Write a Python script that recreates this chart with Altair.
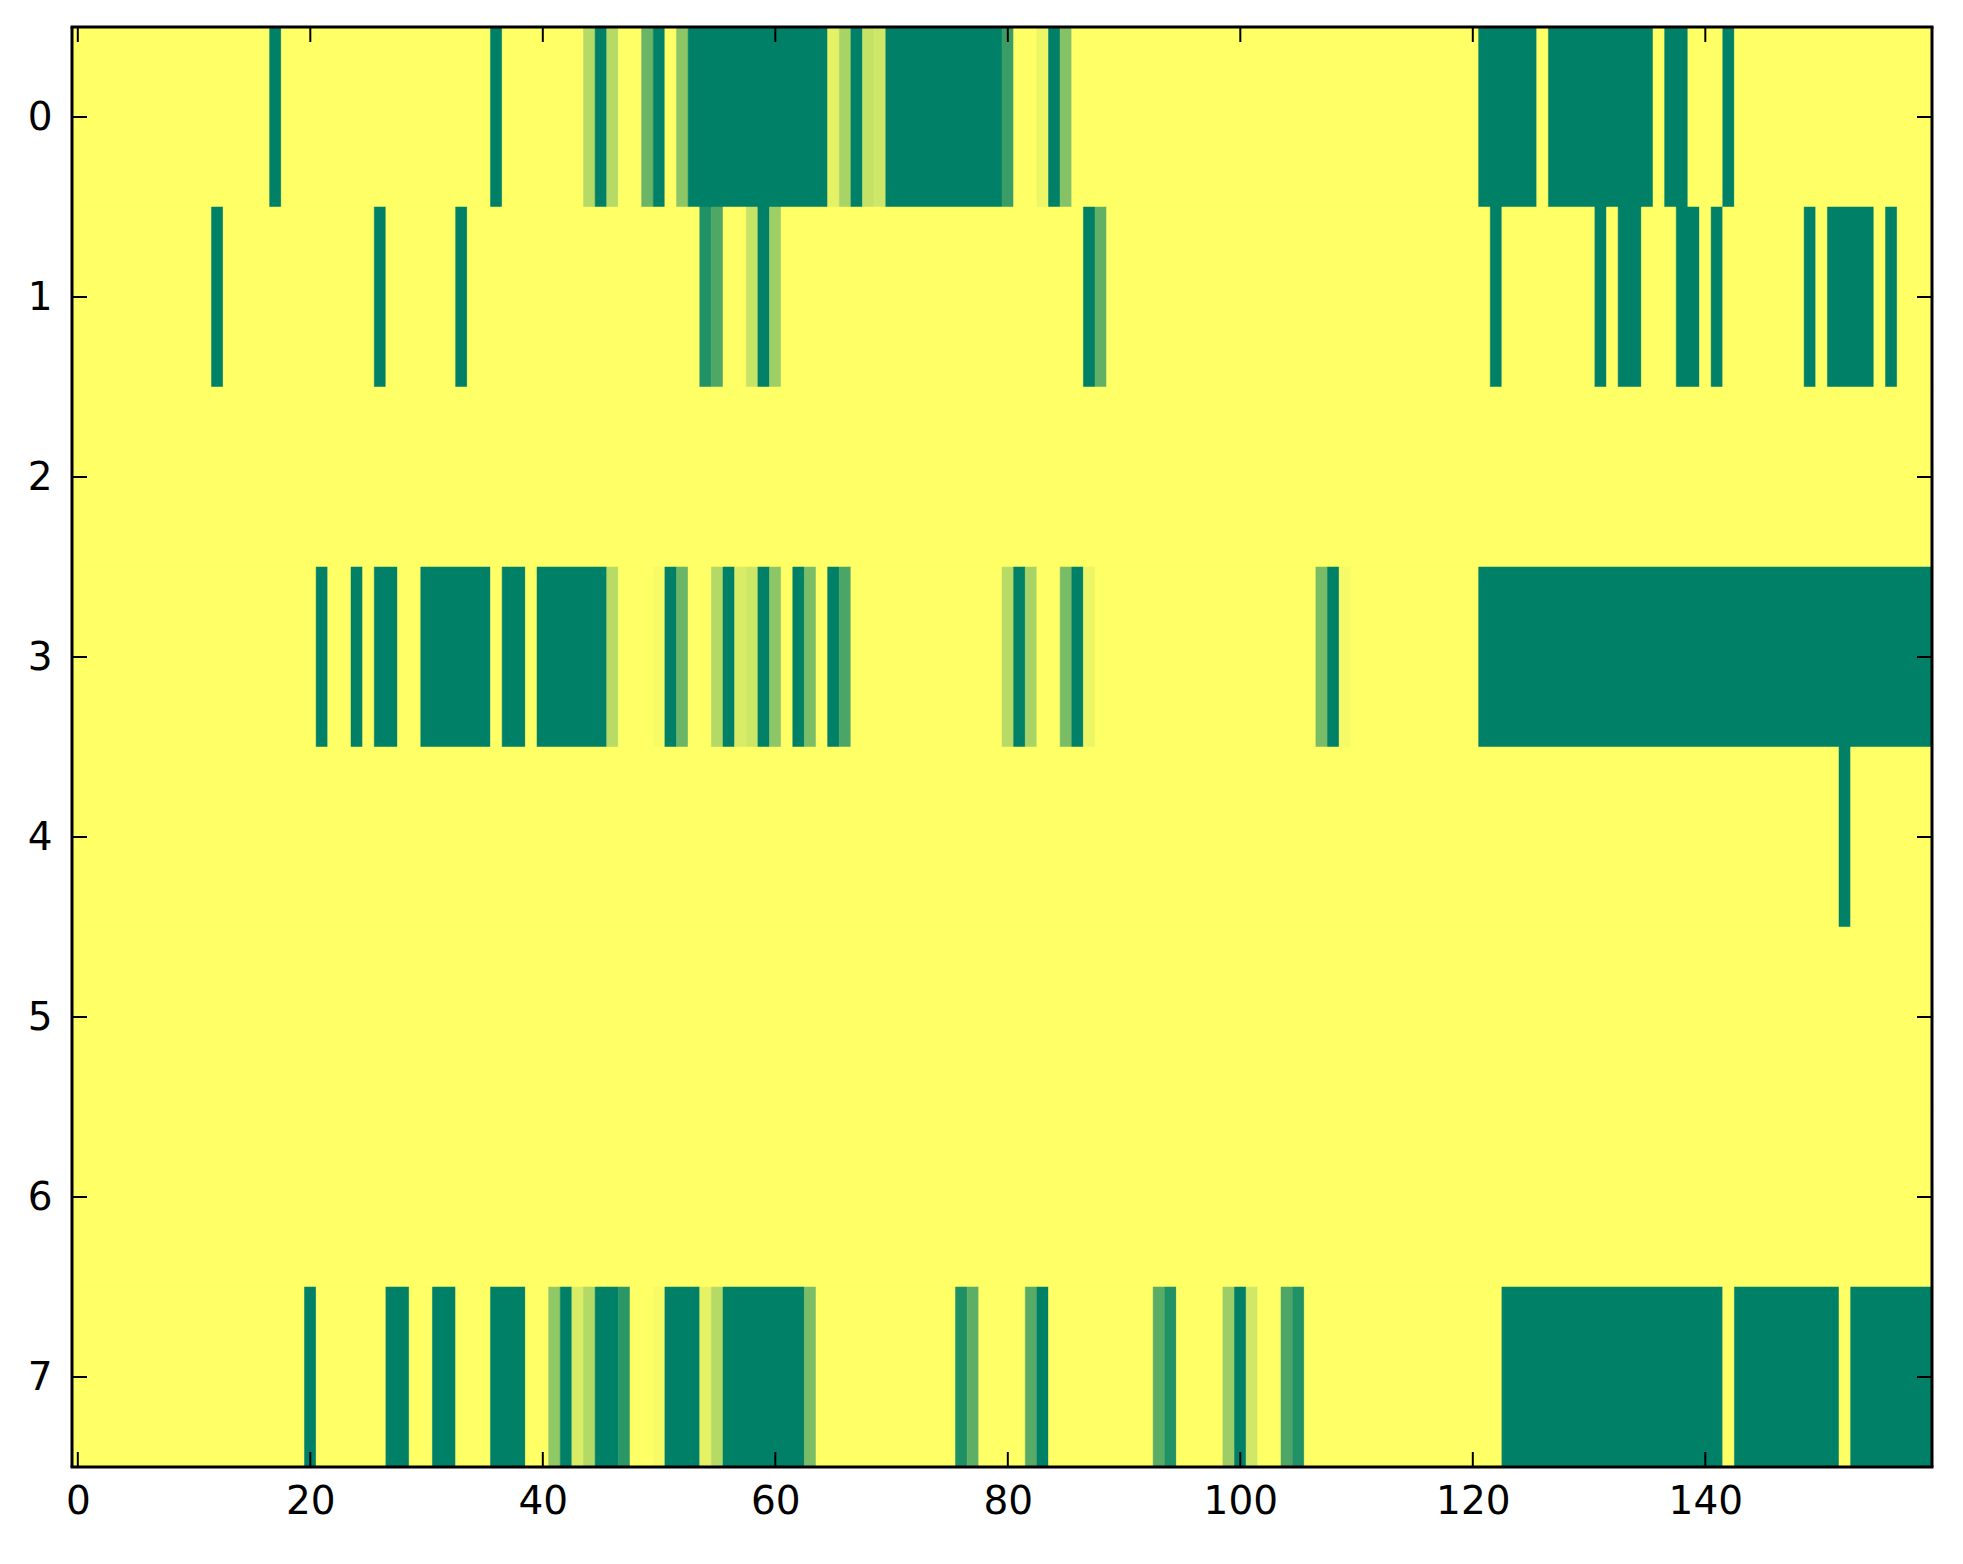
import altair as alt
import pandas as pd

N_COLS = 160
N_ROWS = 8

# Runs of non-zero cells per row: (start_col, end_col, value); all other cells are 0
row_0 = [(17, 17, 1), (36, 36, 1), (44, 44, 0.29), (45, 45, 1), (46, 46, 0.29),
         (49, 49, 0.58), (50, 50, 1), (52, 52, 0.45), (53, 64, 1), (65, 65, 0.1),
         (66, 66, 0.34), (67, 67, 1), (68, 68, 0.23), (69, 69, 0.19), (70, 79, 1),
         (80, 80, 0.77), (83, 83, 0.07), (84, 84, 1), (85, 85, 0.48),
         (121, 125, 1), (127, 135, 1), (137, 138, 1), (142, 142, 1)]
row_1 = [(12, 12, 1), (26, 26, 1), (33, 33, 1), (54, 54, 0.87), (55, 55, 0.69),
         (58, 58, 0.22), (59, 59, 1), (60, 60, 0.38), (87, 87, 1), (88, 88, 0.62),
         (122, 122, 1), (131, 131, 1), (133, 134, 1), (138, 139, 1), (141, 141, 1),
         (149, 149, 1), (151, 154, 1), (156, 156, 1)]
row_2 = []
row_3 = [(21, 21, 1), (24, 24, 1), (26, 27, 1), (30, 35, 1), (37, 38, 1), (40, 45, 1),
         (46, 46, 0.28), (50, 50, 0.03), (51, 51, 1), (52, 52, 0.58), (55, 55, 0.3),
         (56, 56, 1), (57, 57, 0.15), (58, 58, 0.2), (59, 59, 1), (60, 60, 0.45),
         (62, 62, 1), (63, 63, 0.52), (65, 65, 1), (66, 66, 0.71), (80, 80, 0.28),
         (81, 81, 1), (82, 82, 0.34), (85, 85, 0.53), (86, 86, 1), (87, 87, 0.08),
         (107, 107, 0.53), (108, 108, 1), (109, 109, 0.04), (121, 159, 1)]
row_4 = [(152, 152, 1)]
row_5 = []
row_6 = []
row_7 = [(20, 20, 1), (27, 28, 1), (31, 32, 1), (36, 38, 1), (41, 41, 0.43),
         (42, 42, 1), (43, 43, 0.15), (44, 44, 0.3), (45, 46, 1), (47, 47, 0.83),
         (50, 50, 0.03), (51, 53, 1), (54, 54, 0.1), (55, 55, 0.29), (56, 62, 1),
         (63, 63, 0.52), (76, 76, 0.88), (77, 77, 0.63), (82, 82, 0.66), (83, 83, 1),
         (93, 93, 0.65), (94, 94, 0.87), (99, 99, 0.39), (100, 100, 1), (101, 101, 0.18),
         (104, 104, 0.7), (105, 105, 0.87), (123, 141, 1), (143, 151, 1), (153, 159, 1)]

rows = [row_0, row_1, row_2, row_3, row_4, row_5, row_6, row_7]
x_ticks = [0, 20, 40, 60, 80, 100, 120, 140]
y_ticks = [0, 1, 2, 3, 4, 5, 6, 7]

# Expand runs into the full grid, then merge equal neighbouring cells into one rect
records = []
for r, runs in enumerate(rows):
    vals = [0.0] * N_COLS
    for s, e, v in runs:
        for c in range(s, e + 1):
            vals[c] = v
    start = 0
    for c in range(1, N_COLS + 1):
        if c == N_COLS or vals[c] != vals[start]:
            records.append({"x0": start - 0.5, "x1": c - 0.5,
                            "y0": r - 0.5, "y1": r + 0.5, "v": vals[start]})
            start = c
df = pd.DataFrame(records)

W, H = 1860, 1440
TL = 15
FONT = "DejaVu Sans"
FS = 39
FRAME = 3

xs = alt.Scale(domain=[-0.5, N_COLS - 0.5], nice=False, zero=False)
ys = alt.Scale(domain=[-0.5, N_ROWS - 0.5], nice=False, zero=False, reverse=True)
cs = alt.Scale(domain=[0, 1], range=["#ffff66", "#008066"], interpolate="rgb")

heat = alt.Chart(df).mark_rect(strokeWidth=0.5).encode(
    x=alt.X("x0:Q", scale=xs, title=None,
            axis=alt.Axis(values=x_ticks, format="d", ticks=False, domain=False, grid=False,
                          labelFont=FONT, labelFontSize=FS, labelColor="black",
                          labelPadding=15, labelFlush=False)),
    x2="x1:Q",
    y=alt.Y("y0:Q", scale=ys, title=None,
            axis=alt.Axis(values=y_ticks, format="d", ticks=False, domain=False, grid=False,
                          labelFont=FONT, labelFontSize=FS, labelColor="black",
                          labelPadding=20, labelFlush=False)),
    y2="y1:Q",
    fill=alt.Fill("v:Q", scale=cs, legend=None),
    stroke=alt.Stroke("v:Q", scale=cs, legend=None),
)

xt = pd.DataFrame({"t": x_ticks})
yt = pd.DataFrame({"t": y_ticks})

bottom = alt.Chart(xt).mark_rule(color="black", strokeWidth=2).encode(
    x=alt.X("t:Q", scale=xs), y=alt.value(H - TL), y2=alt.value(H))
top = alt.Chart(xt).mark_rule(color="black", strokeWidth=2).encode(
    x=alt.X("t:Q", scale=xs), y=alt.value(0), y2=alt.value(TL))
left = alt.Chart(yt).mark_rule(color="black", strokeWidth=2).encode(
    y=alt.Y("t:Q", scale=ys), x=alt.value(0), x2=alt.value(TL))
right = alt.Chart(yt).mark_rule(color="black", strokeWidth=2).encode(
    y=alt.Y("t:Q", scale=ys), x=alt.value(W - TL), x2=alt.value(W))

# plot frame drawn on top of the image
f_top = alt.Chart().mark_rule(color="black", strokeWidth=FRAME).encode(
    x=alt.value(-FRAME / 2), x2=alt.value(W + FRAME / 2), y=alt.value(0))
f_bot = alt.Chart().mark_rule(color="black", strokeWidth=FRAME).encode(
    x=alt.value(-FRAME / 2), x2=alt.value(W + FRAME / 2), y=alt.value(H))
f_left = alt.Chart().mark_rule(color="black", strokeWidth=FRAME).encode(
    y=alt.value(0), y2=alt.value(H), x=alt.value(0))
f_right = alt.Chart().mark_rule(color="black", strokeWidth=FRAME).encode(
    y=alt.value(0), y2=alt.value(H), x=alt.value(W))

chart = alt.layer(heat, bottom, top, left, right, f_top, f_bot, f_left, f_right).properties(
    width=W, height=H,
    autosize=alt.AutoSizeParams(type="none"),
    padding={"left": 64, "top": 19, "right": 20, "bottom": 80},
    background="white",
).configure_view(strokeWidth=0)

chart.save("out.html", embed_options={"renderer": "svg", "actions": False})
